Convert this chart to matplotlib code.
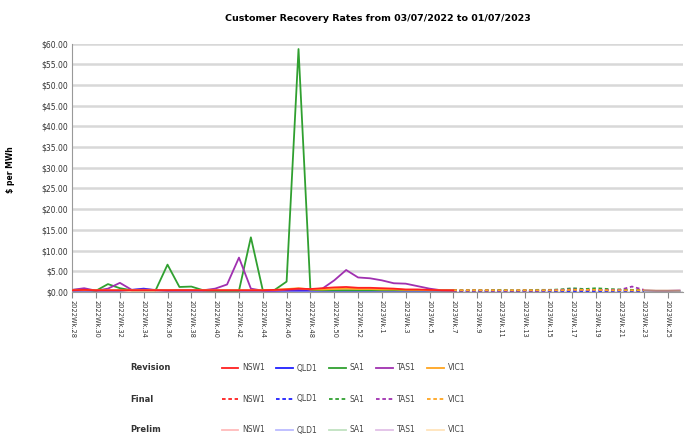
import numpy as np
import matplotlib.pyplot as plt

# week labels: 2022 wk 28..53, 2023 wk 1..26
weeks = ['2022Wk.%d' % w for w in range(28, 54)] + ['2023Wk.%d' % w for w in range(1, 27)]
regions = ['NSW1', 'QLD1', 'SA1', 'TAS1', 'VIC1']
colors = ['#ff2020', '#2020ff', '#30a030', '#a030b0', '#ffa520']

# Revision: weeks 0..32
rev_nsw1 = [0.4, 0.5, 0.4, 0.4, 0.4, 0.4, 0.4, 0.4, 0.4, 0.4, 0.4, 0.4, 0.4, 0.4, 0.4, 0.4, 0.4,
            0.5, 0.6, 0.8, 0.7, 0.9, 1.1, 1.2, 1.0, 1.0, 0.9, 0.8, 0.6, 0.6, 0.5, 0.4, 0.4]
rev_qld1 = [0.3, 0.3, 0.3, 0.3, 0.3, 0.5, 0.8, 0.4, 0.3, 0.3, 0.3, 0.3, 0.3, 0.3, 0.3, 0.3, 0.3,
            0.3, 0.3, 0.3, 0.3, 0.3, 0.3, 0.3, 0.3, 0.3, 0.3, 0.3, 0.3, 0.3, 0.3, 0.3, 0.3]
rev_sa1 = [0.5, 0.6, 0.3, 1.9, 0.9, 0.4, 0.4, 0.4, 6.6, 1.2, 1.3, 0.4, 0.3, 0.3, 0.3, 13.2, 0.4,
           0.5, 2.5, 58.7, 0.5, 0.4, 0.4, 0.4, 0.4, 0.4, 0.4, 0.4, 0.4, 0.4, 0.4, 0.4, 0.4]
rev_tas1 = [0.5, 0.9, 0.3, 0.8, 2.2, 0.5, 0.6, 0.5, 0.4, 0.5, 0.5, 0.4, 0.8, 1.8, 8.3, 0.8, 0.3,
            0.3, 0.5, 0.6, 0.6, 0.8, 2.8, 5.3, 3.5, 3.3, 2.8, 2.1, 2.0, 1.4, 0.8, 0.4, 0.3]
rev_vic1 = [0.4, 0.4, 0.4, 0.4, 0.4, 0.4, 0.4, 0.4, 0.4, 0.4, 0.4, 0.4, 0.4, 0.4, 0.4, 0.4, 0.4,
            0.5, 0.7, 0.9, 0.6, 0.6, 0.7, 0.8, 0.7, 0.7, 0.6, 0.6, 0.5, 0.5, 0.4, 0.4, 0.4]

# Final: weeks 32..48
fin_nsw1 = [0.4, 0.4, 0.4, 0.4, 0.4, 0.3, 0.4, 0.4, 0.4, 0.4, 0.5, 0.5, 0.5, 0.4, 0.5, 0.4, 0.4]
fin_qld1 = [0.3, 0.3, 0.3, 0.3, 0.3, 0.3, 0.3, 0.3, 0.3, 0.3, 0.3, 0.3, 0.3, 0.3, 0.3, 0.3, 0.3]
fin_sa1 = [0.4, 0.4, 0.4, 0.4, 0.5, 0.4, 0.4, 0.5, 0.5, 0.6, 0.9, 0.7, 0.9, 0.7, 0.6, 0.5, 0.4]
fin_tas1 = [0.3, 0.3, 0.3, 0.3, 0.3, 0.3, 0.3, 0.3, 0.4, 0.5, 0.6, 0.5, 0.5, 0.5, 0.5, 1.3, 0.5]
fin_vic1 = [0.4, 0.4, 0.4, 0.4, 0.4, 0.4, 0.4, 0.4, 0.4, 0.4, 0.5, 0.5, 0.5, 0.4, 0.4, 0.4, 0.4]

# Prelim: weeks 48..51
pre_nsw1 = [0.4, 0.3, 0.3, 0.3]
pre_qld1 = [0.3, 0.3, 0.3, 0.3]
pre_sa1 = [0.4, 0.3, 0.3, 0.3]
pre_tas1 = [0.5, 0.3, 0.3, 0.5]
pre_vic1 = [0.4, 0.3, 0.3, 0.3]

rev = [rev_nsw1, rev_qld1, rev_sa1, rev_tas1, rev_vic1]
fin = [fin_nsw1, fin_qld1, fin_sa1, fin_tas1, fin_vic1]
pre = [pre_nsw1, pre_qld1, pre_sa1, pre_tas1, pre_vic1]

plt.rcParams['font.family'] = 'DejaVu Sans'

fig = plt.figure(figsize=(6.88, 4.41), dpi=100)
ax = fig.add_axes([0.105, 0.338, 0.888, 0.563])

x_rev = np.arange(0, len(rev_nsw1))
x_fin = np.arange(32, 32 + len(fin_nsw1))
x_pre = np.arange(48, 48 + len(pre_nsw1))

rows = {'Revision': [], 'Final': [], 'Prelim': []}
for i, reg in enumerate(regions):
    l1, = ax.plot(x_rev, rev[i], color=colors[i], lw=1.3, label=reg)
    l2, = ax.plot(x_fin, fin[i], color=colors[i], lw=1.3, ls=(0, (2, 1.5)), label=reg)
    l3, = ax.plot(x_pre, pre[i], color=colors[i], lw=1.3, alpha=0.3, label=reg)
    rows['Revision'].append(l1)
    rows['Final'].append(l2)
    rows['Prelim'].append(l3)

# keep NSW1 on top like the reference
rows['Revision'][0].set_zorder(3)

ax.set_xlim(0, 51.3)
ax.set_ylim(0, 60)
ax.set_yticks(np.arange(0, 61, 5))
ax.set_yticklabels(['$%.2f' % v for v in np.arange(0, 61, 5)], fontsize=5.5, color='#333333')
ax.set_xticks(np.arange(0, len(weeks), 2))
ax.set_xticklabels(weeks[::2], rotation=-90, fontsize=4.8, color='#333333', va='top')
ax.tick_params(axis='x', length=4, color='#888888', pad=2)
ax.tick_params(axis='y', length=0, pad=3)
ax.grid(axis='y', color='#d8d8d8', lw=1.8)
ax.set_axisbelow(True)
for s in ['top', 'right']:
    ax.spines[s].set_visible(False)
ax.spines['left'].set_color('#999999')
ax.spines['bottom'].set_color('#999999')

ax.set_title('Customer Recovery Rates from 03/07/2022 to 01/07/2023',
             fontsize=6.8, fontweight='bold', pad=16)
fig.text(0.015, 0.615, '$ per MWh', rotation=90, fontsize=5.5, fontweight='bold',
         ha='center', va='center')

# legend rows
row_y = [1 - 368 / 441, 1 - 399 / 441, 1 - 430 / 441]
for (name, handles), y in zip(rows.items(), row_y):
    fig.text(130 / 688, y, name, fontsize=6, fontweight='bold', ha='left', va='center',
             color='#333333')
    leg = fig.legend(handles, regions, loc='center left', bbox_to_anchor=(0.322, y),
                     ncol=5, frameon=False, fontsize=5.5, handlelength=2.2,
                     handletextpad=0.5, columnspacing=1.5, borderaxespad=0,
                     borderpad=0)
    for t in leg.get_texts():
        t.set_color('#444444')

fig.savefig('out.png', dpi=100)
